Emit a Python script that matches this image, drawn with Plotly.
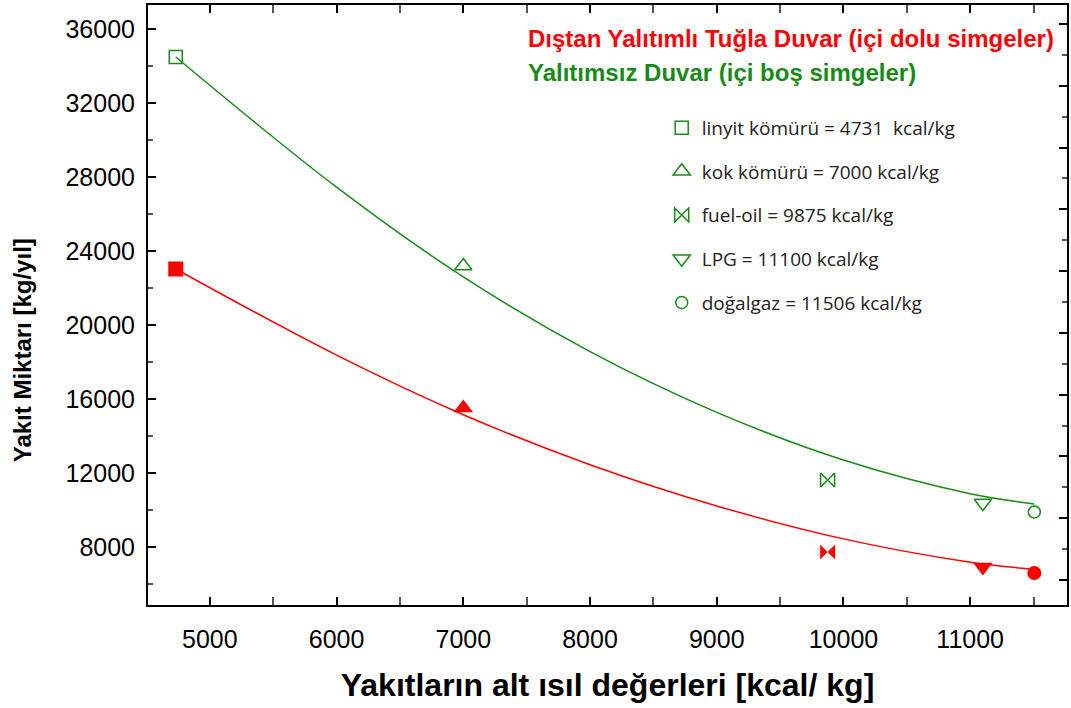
import plotly.graph_objects as go

# ---------------- data ----------------
fuel_names = ["linyit kömürü = 4731  kcal/kg", "kok kömürü = 7000 kcal/kg",
              "fuel-oil = 9875 kcal/kg", "LPG = 11100 kcal/kg",
              "doğalgaz = 11506 kcal/kg"]
heating_values = [4731, 7000, 9875, 11100, 11506]
insulated_fuel = [23028, 15515, 7733, 6921, 6597]        # red, filled markers
uninsulated_fuel = [34487, 23190, 11623, 10380, 9894]    # green, open markers

curve_x = [4731, 6000, 7000, 8000, 9000, 10000, 11000, 11506]
insulated_curve = [23028, 18370, 15150, 12450, 10220, 8440, 7180, 6790]
uninsulated_curve = [34487, 27450, 22600, 18560, 15280, 12700, 10880, 10330]

filled_symbols = ["square", "triangle-up", "bowtie", "triangle-down", "circle"]
open_symbols = ["square-open", "triangle-up-open", "bowtie-open",
                "triangle-down-open", "circle-open"]
open_sizes = [13, 15, 14, 15, 12]
filled_sizes = [15, 17, 15, 17, 14]

x_ticks = [5000, 6000, 7000, 8000, 9000, 10000, 11000]
y_ticks = [8000, 12000, 16000, 20000, 24000, 28000, 32000, 36000]

RED = "#ff0000"
GREEN = "#168c16"

fig = go.Figure()

fig.add_trace(go.Scatter(x=curve_x, y=uninsulated_curve, mode="lines",
                         line=dict(color=GREEN, width=1.5, shape="spline"),
                         showlegend=False, hoverinfo="skip"))
fig.add_trace(go.Scatter(x=curve_x, y=insulated_curve, mode="lines",
                         line=dict(color=RED, width=1.5, shape="spline"),
                         showlegend=False, hoverinfo="skip"))

for i, name in enumerate(fuel_names):
    fig.add_trace(go.Scatter(
        x=[heating_values[i]], y=[uninsulated_fuel[i]], mode="markers",
        name=name, legendgroup=f"g{i}",
        marker=dict(symbol=open_symbols[i], size=open_sizes[i], color=GREEN,
                    line=dict(color=GREEN, width=1.5))))
    fig.add_trace(go.Scatter(
        x=[heating_values[i]], y=[insulated_fuel[i]], mode="markers",
        name=name, legendgroup=f"g{i}", showlegend=False,
        marker=dict(symbol=filled_symbols[i], size=filled_sizes[i], color=RED,
                    line=dict(color=RED, width=0))))

# dummy trace for the unlabeled right axis
fig.add_trace(go.Scatter(x=[None], y=[None], yaxis="y2", showlegend=False,
                         hoverinfo="skip"))

tick_font = dict(family="Liberation Sans, Arial, sans-serif", size=25, color="black")

fig.update_layout(
    width=1071, height=708,
    margin=dict(l=148, r=2, t=5, b=103),
    paper_bgcolor="white", plot_bgcolor="white",
    font=dict(family="Liberation Sans, Arial, sans-serif", color="black"),
    xaxis=dict(range=[4512, 11764], tickvals=x_ticks, tickformat="d",
               ticks="inside", ticklen=8,
               tickwidth=1.5, tickcolor="black", showgrid=False, zeroline=False,
               showline=True, linecolor="black", linewidth=2, mirror="allticks",
               minor=dict(dtick=500, ticks="inside", ticklen=5, tickcolor="#555",
                          showgrid=False),
               tickfont=tick_font, ticklabelstandoff=11,
               title=dict(text="<b>Yakıtların alt ısıl değerleri [kcal/ kg]</b>",
                          font=dict(size=32, family="Liberation Sans, Arial, sans-serif"),
                          standoff=22)),
    yaxis=dict(range=[4865, 37297], tickvals=y_ticks, tickformat="d",
               ticks="inside", ticklen=8,
               tickwidth=1.5, tickcolor="black", showgrid=False, zeroline=False,
               showline=True, linecolor="black", linewidth=2, mirror=True,
               minor=dict(dtick=2000, tick0=0, ticks="inside", ticklen=5,
                          tickcolor="#555", showgrid=False),
               tickfont=tick_font, ticklabelstandoff=6),
    yaxis2=dict(overlaying="y", side="right", range=[-0.405, 9.307], dtick=1,
                tick0=0, ticks="inside", ticklen=8, tickwidth=1.5, tickcolor="black",
                showticklabels=False, showgrid=False, zeroline=False, showline=False,
                minor=dict(dtick=0.5, ticks="inside", ticklen=5, tickcolor="#555",
                           showgrid=False)),
    legend=dict(x=0.559, y=0.827, xanchor="left", yanchor="top",
                bgcolor="rgba(0,0,0,0)", traceorder="grouped", tracegroupgap=16,
                font=dict(family="Open Sans, sans-serif", size=19, color="#222")),
    annotations=[
        dict(text="<b>Dıştan Yalıtımlı Tuğla Duvar (içi dolu simgeler)</b>",
             xref="paper", yref="paper", x=(527 - 148) / 921, y=(605 - 38) / 600,
             xanchor="left", yanchor="middle", showarrow=False,
             font=dict(size=24, color=RED)),
        dict(text="<b>Yalıtımsız Duvar (içi boş simgeler)</b>",
             xref="paper", yref="paper", x=(527 - 148) / 921, y=(605 - 73) / 600,
             xanchor="left", yanchor="middle", showarrow=False,
             font=dict(size=24, color=GREEN)),
        dict(text="<b>Yakıt Miktarı [kg/yıl]</b>",
             xref="paper", yref="paper", x=(22 - 148) / 921, y=(605 - 350) / 600,
             xanchor="center", yanchor="middle", textangle=-90, showarrow=False,
             font=dict(size=24, color="black")),
    ],
)

fig.write_html("out.html")
